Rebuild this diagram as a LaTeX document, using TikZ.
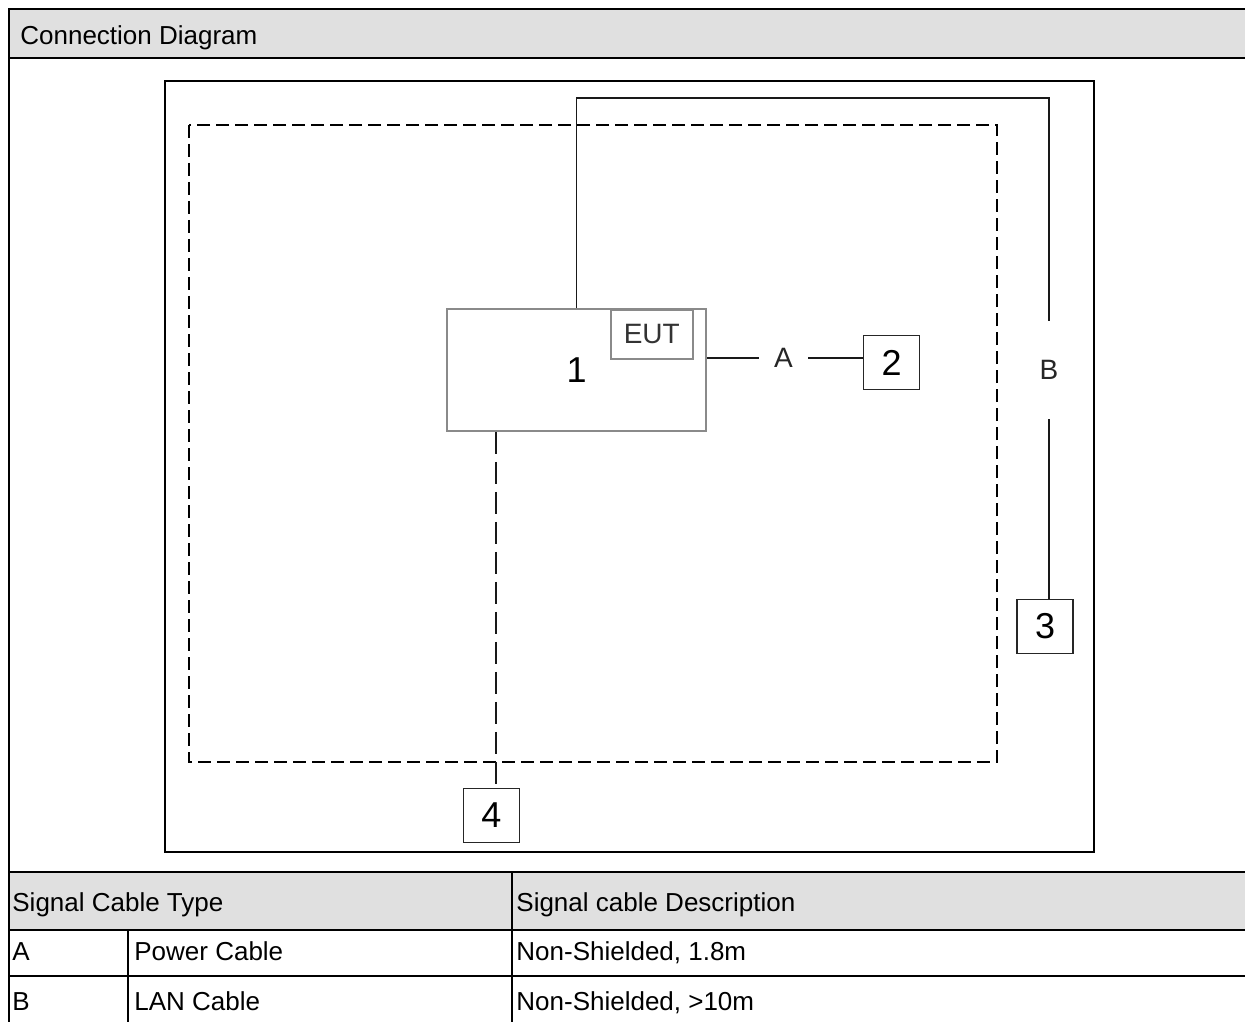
\documentclass[tikz,border=0pt]{standalone}
\usepackage{fontspec}
\setmainfont{Liberation Sans}
\usetikzlibrary{positioning}
\definecolor{bargray}{HTML}{E0E0E0}
\definecolor{boxgray}{HTML}{8A8A8A}
\tikzset{
  framepath/.style={line width=1.1pt, draw=black},
  rulepath/.style={line width=1.3pt, draw=black},
  colpath/.style={line width=0.8pt, draw=black},
  unitbox/.style={draw=boxgray, line width=0.8pt, minimum width=129.5pt, minimum height=61pt, inner sep=0pt, font=\fontsize{18}{20}\selectfont},
  labelbox/.style={draw=boxgray, line width=0.8pt, minimum width=41pt, minimum height=24.5pt, inner sep=0pt, text=black!80, font=\fontsize{14}{16}\selectfont},
  periphbox/.style={draw=black!85, line width=0.8pt, minimum width=28pt, minimum height=27pt, inner sep=0pt, font=\fontsize{18}{20}\selectfont},
  cablelabel/.style={inner sep=0pt, text=black!85, font=\fontsize{14}{16}\selectfont},
  cable/.style={line width=0.8pt, draw=black!90},
  tabletext/.style={anchor=base west, inner sep=0pt, font=\fontsize{13}{15}\selectfont}
}
\begin{document}
\begin{tikzpicture}[x=0.5pt, y=-0.5pt]
  \clip (0,0) rectangle (1245,1021);
  % title bar and table
  \fill[bargray] (9,9) rectangle (1260,58);
  \fill[bargray] (9,872) rectangle (1260,930);
  \draw[framepath] (1260,9) -- (9,9) -- (9,1040);
  \draw[framepath] (9,58) -- (1260,58);
  \draw[rulepath] (9,872) -- (1260,872);
  \draw[rulepath] (9,930) -- (1260,930);
  \draw[rulepath] (9,976) -- (1260,976);
  \draw[colpath] (512,872) -- (512,1040);
  \draw[colpath] (128,930) -- (128,1040);
  \node[tabletext] (title) at (20,45) {Connection Diagram};
  \node[tabletext] (hdrtype) at (12,911) {Signal Cable Type};
  \node[tabletext] (hdrdesc) at (516,911) {Signal cable Description};
  \node[tabletext] (rowa) at (12,960) {A};
  \node[tabletext] (rowaname) at (134,960) {Power Cable};
  \node[tabletext] (rowadesc) at (516,960) {Non-Shielded, 1.8m};
  \node[tabletext] (rowb) at (12,1010) {B};
  \node[tabletext] (rowbname) at (134,1010) {LAN Cable};
  \node[tabletext] (rowbdesc) at (516,1010) {Non-Shielded, >10m};

  % test set-up
  \draw[line width=0.9pt] (165,81) rectangle (1094,852);
  \draw[line width=1pt, dash pattern=on 6.5pt off 3pt] (189,125) rectangle (997,762);

  \node[unitbox] (eut) at (576.5,370) {1};
  \node[labelbox, anchor=north west] (euttag) at (610,309) {EUT};
  \node[periphbox] (aux2) at (891.5,362.5) {2};
  \node[periphbox] (aux3) at (1045,626.5) {3};
  \node[periphbox] (aux4) at (491.5,815.5) {4};

  % cable A
  \node[cablelabel, minimum width=24.5pt] (cabA) at (783.5,358) {A};
  \draw[cable] (eut.east |- cabA) -- (cabA.west);
  \draw[cable] (cabA.east) -- (cabA.east -| aux2.west);

  % cable B
  \node[cablelabel, minimum height=49pt] (cabB) at (1049,370) {B};
  \coordinate (bend) at (1049,98);
  \draw[cable] (eut.north) |- (bend) -- (cabB.north);
  \draw[cable] (cabB.south) -- (cabB.south |- aux3.north);

  % cable to 4
  \coordinate (tap4) at ([xshift=25pt]eut.south west);
  \draw[cable, dash pattern=on 11pt off 4pt] (tap4) -- (tap4 |- aux4.north);
\end{tikzpicture}
\end{document}
